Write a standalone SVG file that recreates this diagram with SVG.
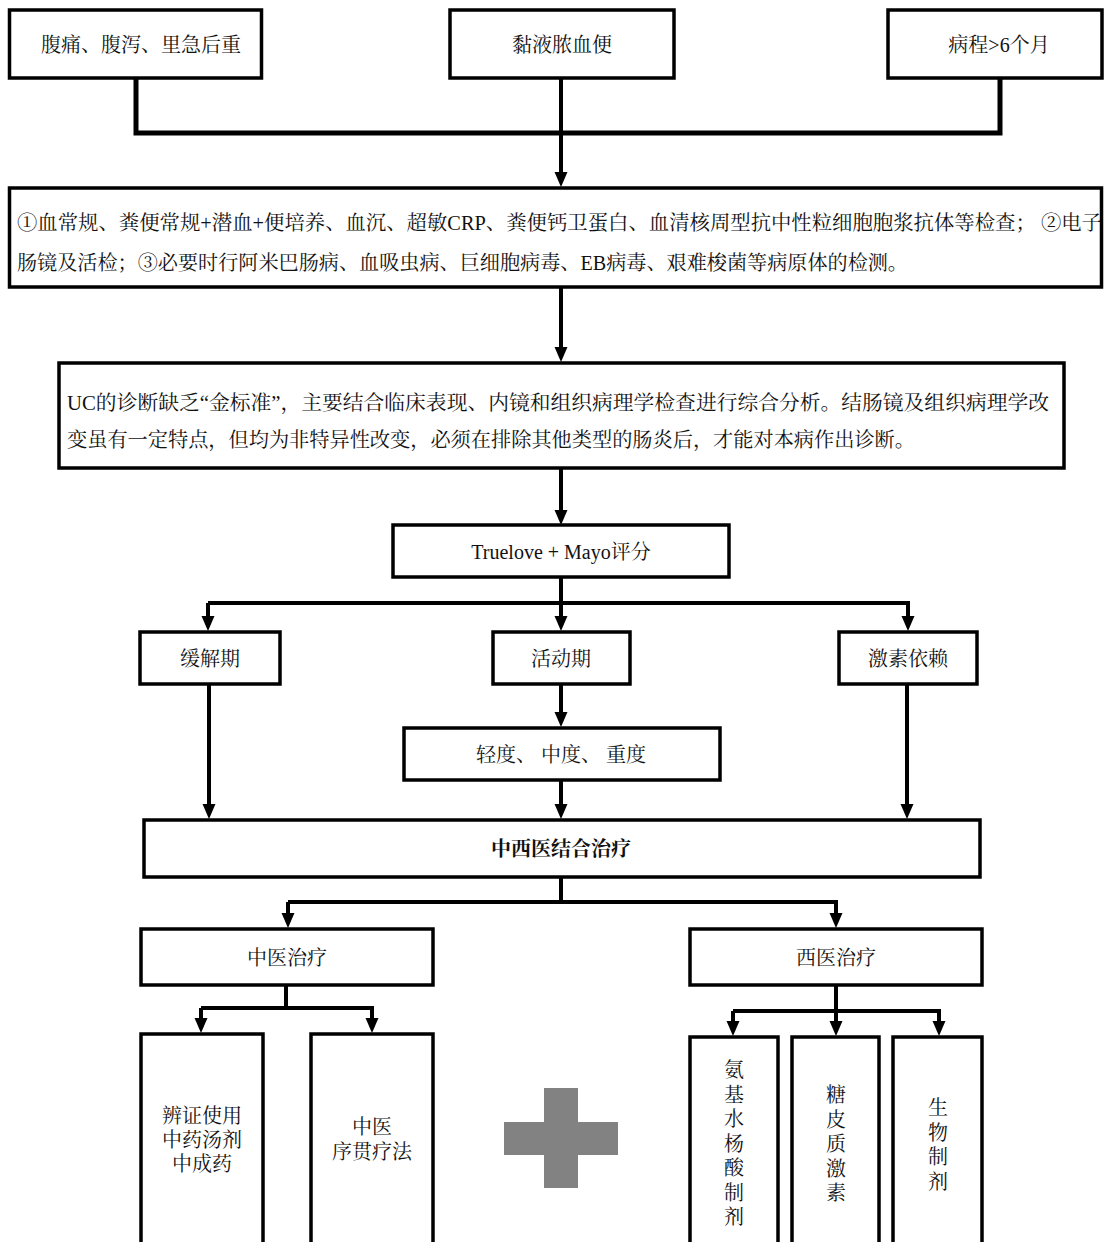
<svg xmlns="http://www.w3.org/2000/svg" width="1104" height="1242" viewBox="0 0 1104 1242">
<defs>
<style>
.box{fill:#fff;stroke:#000;stroke-width:3.5}
.c{fill:none;stroke:#000;stroke-width:4;marker-end:url(#ah)}
.c0{fill:none;stroke:#000;stroke-width:4}
.t{font-family:"Liberation Serif","Noto Serif CJK SC","Noto Sans CJK SC",serif;font-size:20px;fill:#111}
.m{text-anchor:middle;dominant-baseline:central}
.l{dominant-baseline:central}
.b{font-weight:bold}
</style>
<marker id="ah" markerUnits="userSpaceOnUse" markerWidth="16" markerHeight="14" refX="3" refY="6.5" orient="auto" viewBox="0 0 16 14">
<path d="M0,0 L15,6.5 L0,13 z" fill="#000"/>
</marker>
</defs>
<rect width="1104" height="1242" fill="#fff"/>

<g id="connectors">
<path class="c0" d="M136,78 V133 H1000 V78" style="stroke-width:5"/>
<path class="c" d="M561,78 V175"/>
<path class="c" d="M561,287 V350"/>
<path class="c" d="M561,468 V513"/>
<path class="c0" d="M561,577 V603"/>
<path class="c" d="M208,603 H908 V619"/>
<path class="c" d="M208,603 V619"/>
<path class="c" d="M561,603 V619"/>
<path class="c" d="M209,684 V807"/>
<path class="c" d="M561,684 V715"/>
<path class="c" d="M561,780 V807"/>
<path class="c" d="M907,684 V807"/>
<path class="c0" d="M561,877 V902"/>
<path class="c" d="M288,902 H836 V916"/>
<path class="c" d="M288,902 V916"/>
<path class="c0" d="M286,985 V1008"/>
<path class="c" d="M201,1008 H372 V1021"/>
<path class="c" d="M201,1008 V1021"/>
<path class="c0" d="M836,985 V1011"/>
<path class="c" d="M733,1011 H939 V1024"/>
<path class="c" d="M733,1011 V1024"/>
<path class="c" d="M836,1011 V1024"/>
</g>

<g id="n1"><rect class="box" x="9.5" y="10" width="252" height="68"/><text class="t m" x="141" y="45">腹痛、腹泻、里急后重</text></g>
<g id="n2"><rect class="box" x="450" y="10" width="224" height="68"/><text class="t m" x="562" y="45">黏液脓血便</text></g>
<g id="n3"><rect class="box" x="888" y="10" width="214" height="68"/><text class="t m" x="999" y="45">病程&gt;6个月</text></g>

<g id="n4"><rect class="box" x="9.5" y="188" width="1092" height="99"/>
<text class="t l" x="17" y="223" textLength="1085" lengthAdjust="spacingAndGlyphs">①血常规、粪便常规+潜血+便培养、血沉、超敏CRP、粪便钙卫蛋白、血清核周型抗中性粒细胞胞浆抗体等检查； ②电子</text>
<text class="t l" x="17" y="263" textLength="891" lengthAdjust="spacingAndGlyphs">肠镜及活检；③必要时行阿米巴肠病、血吸虫病、巨细胞病毒、EB病毒、艰难梭菌等病原体的检测。</text>
</g>

<g id="n5"><rect class="box" x="59" y="363" width="1005" height="105"/>
<text class="t l" x="67" y="403" textLength="982" lengthAdjust="spacingAndGlyphs">UC的诊断缺乏“金标准”，主要结合临床表现、内镜和组织病理学检查进行综合分析。结肠镜及组织病理学改</text>
<text class="t l" x="67" y="440" textLength="848" lengthAdjust="spacingAndGlyphs">变虽有一定特点，但均为非特异性改变，必须在排除其他类型的肠炎后，才能对本病作出诊断。</text>
</g>

<g id="n6"><rect class="box" x="393" y="525" width="336" height="52"/><text class="t m" x="561" y="552">Truelove + Mayo评分</text></g>
<g id="n7"><rect class="box" x="140" y="632" width="140" height="52"/><text class="t m" x="210" y="659">缓解期</text></g>
<g id="n8"><rect class="box" x="493" y="632" width="137" height="52"/><text class="t m" x="561" y="659">活动期</text></g>
<g id="n9"><rect class="box" x="839" y="632" width="138" height="52"/><text class="t m" x="908" y="659">激素依赖</text></g>
<g id="n10"><rect class="box" x="404" y="728" width="316" height="52"/><text class="t m" x="561" y="755" xml:space="preserve">轻度、 中度、 重度</text></g>
<g id="n11"><rect class="box" x="144" y="820" width="836" height="57"/><text class="t m b" x="561" y="849">中西医结合治疗</text></g>
<g id="n12"><rect class="box" x="141" y="929" width="292" height="56"/><text class="t m" x="287" y="958">中医治疗</text></g>
<g id="n13"><rect class="box" x="690" y="929" width="292" height="56"/><text class="t m" x="836" y="958">西医治疗</text></g>

<g id="n14"><rect class="box" x="141" y="1034" width="122" height="230"/>
<text class="t m" x="202" y="1116">辨证使用</text><text class="t m" x="202" y="1140">中药汤剂</text><text class="t m" x="202" y="1164">中成药</text></g>
<g id="n15"><rect class="box" x="311" y="1034" width="122" height="230"/>
<text class="t m" x="372" y="1127">中医</text><text class="t m" x="372" y="1152">序贯疗法</text></g>

<g id="plus"><rect x="544" y="1088" width="34" height="100" fill="#828282"/><rect x="504" y="1122" width="114" height="33" fill="#828282"/></g>

<g id="n16"><rect class="box" x="690" y="1037" width="88" height="230"/>
<text class="t m" x="734" y="1070"><tspan x="734" y="1070">氨</tspan><tspan x="734" y="1094.5">基</tspan><tspan x="734" y="1119">水</tspan><tspan x="734" y="1143.5">杨</tspan><tspan x="734" y="1168">酸</tspan><tspan x="734" y="1192.5">制</tspan><tspan x="734" y="1217">剂</tspan></text></g>
<g id="n17"><rect class="box" x="792" y="1037" width="87" height="230"/>
<text class="t m" x="836" y="1095"><tspan x="836" y="1095">糖</tspan><tspan x="836" y="1119.5">皮</tspan><tspan x="836" y="1144">质</tspan><tspan x="836" y="1168.5">激</tspan><tspan x="836" y="1193">素</tspan></text></g>
<g id="n18"><rect class="box" x="893" y="1037" width="89" height="230"/>
<text class="t m" x="938" y="1108"><tspan x="938" y="1108">生</tspan><tspan x="938" y="1132.5">物</tspan><tspan x="938" y="1157">制</tspan><tspan x="938" y="1181.5">剂</tspan></text></g>
</svg>
